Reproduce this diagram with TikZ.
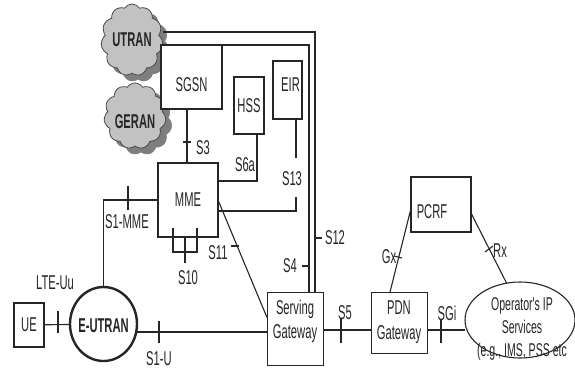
\documentclass[tikz,border=0pt]{standalone}
\usepackage{fontspec}
\setmainfont{Liberation Sans}
\newfontfamily\labfont[FakeStretch=0.56]{Liberation Sans}
\newfontfamily\elfont[FakeStretch=0.57]{Liberation Sans}
\usetikzlibrary{shapes.geometric,shapes.symbols}
\definecolor{ink}{HTML}{262626}
\definecolor{clight}{HTML}{C2C2C2}
\definecolor{cshadow}{HTML}{7E7E7E}
\definecolor{cline}{HTML}{4A4A4A}
\begin{document}
\begin{tikzpicture}[x=1pt,y=-1pt,
  every node/.style={inner sep=0pt, outer sep=0pt},
  lab/.style={font=\labfont\fontsize{20}{24}\selectfont, text=ink, align=center},
  blab/.style={font=\labfont\bfseries\fontsize{20}{24}\selectfont, text=ink, align=center},
  eltext/.style={font=\elfont\fontsize{18.5}{23}\selectfont, text=ink, align=center},
  boxbase/.style={draw=ink, fill=white, inner sep=0pt, font=\labfont\fontsize{20}{25}\selectfont, text=ink, align=center},
  thickbox/.style={boxbase, line width=2.7pt},
  medbox/.style={boxbase, line width=1.8pt},
  thinbox/.style={boxbase, line width=0.9pt},
  conn/.style={draw=ink, line width=1.1pt},
  tick/.style={draw=ink, line width=1.1pt},
  cloudshape/.style={cloud, cloud puffs=11, cloud puff arc=115, aspect=0.85, inner sep=0pt},
]
\fill[white, use as bounding box] (0,0) rectangle (575,378);

% clouds
\node[cloudshape, fill=cshadow, draw=cshadow, minimum width=62pt, minimum height=66pt] (GERANsh) at (141,122) {};
\node[cloudshape, fill=clight, draw=cline, line width=0.8pt, minimum width=62pt, minimum height=66pt,
      label={[blab, yshift=-6pt]center:GERAN}] (GERAN) at (135,116) {};
\node[cloudshape, fill=cshadow, draw=cshadow, minimum width=62pt, minimum height=72pt] (UTRANsh) at (138,46) {};
\node[cloudshape, fill=clight, draw=cline, line width=0.8pt, minimum width=62pt, minimum height=72pt,
      label={[blab]center:UTRAN}] (UTRAN) at (132,40) {};

% boxes
\node[medbox, minimum width=61pt, minimum height=64pt, label={[lab, yshift=-8pt]center:SGSN}] (SGSN) at (191.5,77) {};
\node[thickbox, minimum width=30pt, minimum height=57pt] (HSS) at (249,105.5) {HSS};
\node[thickbox, minimum width=29pt, minimum height=58pt, label={[lab, xshift=3pt, yshift=5pt]center:EIR}] (EIR) at (287.5,90) {};
\node[thickbox, minimum width=60pt, minimum height=74pt] (MME) at (188,200) {MME};
\node[thickbox, minimum width=30pt, minimum height=44pt] (UE) at (29,325) {UE};
\node[ellipse, draw=ink, fill=white, line width=2.4pt, minimum width=67pt, minimum height=74pt, inner sep=0pt,
      label={[blab, yshift=-2pt]center:E-UTRAN}] (EUTRAN) at (103.5,324) {};
\node[thinbox, minimum width=56pt, minimum height=73pt, label={[lab, yshift=7pt]center:{Serving\\Gateway}}] (SGW) at (295,328.5) {};
\node[thinbox, minimum width=56pt, minimum height=61pt] (PDN) at (399,322.5) {PDN\\Gateway};
\node[thickbox, minimum width=60pt, minimum height=55pt, label={[lab, xshift=-9pt, yshift=-7pt]center:PCRF}] (PCRF) at (441,204.5) {};
\node[ellipse, draw=ink, fill=white, line width=1.1pt, minimum width=110pt, minimum height=76pt, inner sep=0pt,
      label={[eltext, xshift=2pt, yshift=-9pt]center:{Operator's IP\\Services\\(e.g., IMS, PSS etc}}] (OPIP) at (520,320) {};

% connectors
\draw[conn] (UE) -- (EUTRAN);
\draw[tick] (58,311) -- (58,333);
\node[lab] (lLTE) at (55,283) {LTE-Uu};

\draw[conn] (MME.west) -| (EUTRAN.north);
\draw[tick] (128,186) -- (128,210);
\node[lab] (lS1MME) at (127,222) {S1-MME};

\draw[conn] ([yshift=-3.5pt]SGW.west) -- ([yshift=-3.5pt]SGW.west -| EUTRAN.east);
\draw[tick] (159,321) -- (159,343);
\node[lab] (lS1U) at (159,359) {S1-U};

\draw[conn] ([xshift=-4.5pt]SGSN.south) -- ([xshift=-4.5pt]SGSN.south |- MME.north);
\draw[tick] (183,142) -- (191,142);
\node[lab] (lS3) at (203,148) {S3};

\draw[conn] ([yshift=19pt]MME.east) -| ([xshift=8pt]HSS.south);
\node[lab] (lS6a) at (245,165) {S6a};

\draw[conn] ([xshift=8.5pt]EIR.south) -- ++(0,39);
\draw[conn] ([yshift=-11pt]MME.east) -| ++(78,-14);
\node[lab] (lS13) at (292,179) {S13};

\draw[conn] ([xshift=-15pt,yshift=9pt]MME.south) -- ++(0,24) -- ++(24,0) -- ++(0,-24);
\draw[tick] (185,238) -- (185,263);
\node[lab] (lS10) at (188,278) {S10};

\draw[conn] (MME.east) -- ([yshift=11pt]SGW.west);
\draw[tick] (231,246) -- (239,246);
\node[lab] (lS11) at (218,253) {S11};

\draw[conn] (SGSN.north east) -| ([xshift=14pt]SGW.north);
\draw[tick] (302,266) -- (309,266);
\node[lab] (lS4) at (290,266) {S4};

\coordinate (U12) at (163,32);
\draw[conn] (U12) -| ([xshift=20pt]SGW.north);
\draw[tick] (315,238) -- (322,238);
\node[lab] (lS12) at (335,238) {S12};

\draw[conn] ([yshift=-1.5pt]SGW.east) -- ([yshift=-1.5pt]SGW.east -| PDN.west);
\draw[tick] (341,318) -- (341,343);
\node[lab] (lS5) at (345,313) {S5};

\draw[conn] ([yshift=-1.5pt]SGW.east -| PDN.east) -- ([yshift=-1.5pt]SGW.east -| OPIP.west);
\draw[tick] (441,320) -- (441,343);
\node[lab] (lSGi) at (447,313) {SGi};

\draw[conn] ([xshift=-9pt]PDN.north) -- ([yshift=-4pt]PCRF.west);
\draw[tick] (394,256) -- (402,258);
\node[lab] (lGx) at (389,257) {Gx};

\draw[conn] ([yshift=-8.5pt]PCRF.east) -- (OPIP.110);
\draw[tick] (485,252) -- (493,246);
\node[lab] (lRx) at (500,251) {Rx};
\end{tikzpicture}
\end{document}
